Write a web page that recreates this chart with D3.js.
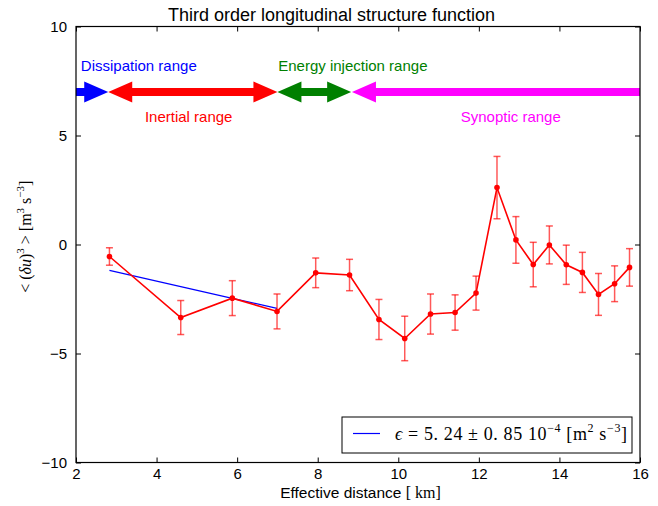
<!DOCTYPE html>
<html><head><meta charset="utf-8">
<script src="https://cdn.jsdelivr.net/npm/d3@7"></script>
<style>
html,body{margin:0;padding:0;background:#fff;}
svg{display:block;}
</style></head>
<body>
<svg id="chart" width="658" height="506"></svg>
<script>
// ---- data ----
const distanceKm = [2.83, 4.60, 5.88, 6.99, 7.95, 8.79, 9.52, 10.16, 10.80, 11.41, 11.93, 12.45, 12.92, 13.35, 13.75, 14.17, 14.57, 14.97, 15.37, 15.74];
const structureFn = [-0.55, -3.35, -2.46, -3.07, -1.30, -1.40, -3.44, -4.31, -3.19, -3.12, -2.23, 2.61, 0.21, -0.92, -0.02, -0.93, -1.28, -2.29, -1.80, -1.05];
const errorBars = [0.40, 0.78, 0.80, 0.80, 0.68, 0.72, 0.92, 1.02, 0.92, 0.81, 0.78, 1.43, 1.07, 1.02, 0.87, 0.90, 0.92, 0.96, 0.82, 0.86];
const fitKm = [2.83, 4.60, 5.88, 6.99];
const fitValues = [-1.19, -1.93, -2.47, -2.93];
const xTicks = [2, 4, 6, 8, 10, 12, 14, 16];
const yTicks = [-10, -5, 0, 5, 10];
const rangeNames = ["Dissipation range", "Inertial range", "Energy injection range", "Synoptic range"];
const rangeStart = [2.0, 2.8, 7.0, 8.85];
const rangeEnd = [2.8, 7.0, 8.83, 16.0];
const rangeHeadStart = [false, true, true, true];
const rangeHeadEnd = [true, true, true, false];
const rangeLevel = 7;
const labelX = [2.12, 3.71, 7.02, 11.55];
const labelY = [7.96, 5.63, 7.96, 5.63];
const rangeColors = ["#0000ff", "#ff0000", "#008000", "#ff00ff"];

// ---- layout ----
const svg = d3.select("#chart");
const L = 76, R = 640, T = 26.5, B = 462.5;
const x = d3.scaleLinear().domain([2, 16]).range([L, R]);
const y = d3.scaleLinear().domain([-10, 10]).range([B, T]);
const sans = "'Liberation Sans', Arial, Helvetica, sans-serif";
const serif = "'Liberation Serif', 'DejaVu Serif', serif";

// axes
const gx = svg.append("g").attr("transform", `translate(0,${B})`)
  .call(d3.axisBottom(x).tickValues(xTicks).tickSize(-5).tickSizeOuter(0).tickPadding(6).tickFormat(d3.format("d")));
const gxTop = svg.append("g").attr("transform", `translate(0,${T})`)
  .call(d3.axisTop(x).tickValues(xTicks).tickSize(-5).tickSizeOuter(0).tickFormat(""));
const gy = svg.append("g").attr("transform", `translate(${L},0)`)
  .call(d3.axisLeft(y).tickValues(yTicks).tickSize(-5).tickSizeOuter(0).tickPadding(9).tickFormat(d3.format("d")));
const gyR = svg.append("g").attr("transform", `translate(${R},0)`)
  .call(d3.axisRight(y).tickValues(yTicks).tickSize(-5).tickSizeOuter(0).tickFormat(""));
[gx, gxTop, gy, gyR].forEach(g => {
  g.select(".domain").remove();
  g.selectAll(".tick line").attr("stroke", "#000").attr("stroke-width", 1);
  g.selectAll("text").attr("font-family", sans).attr("font-size", 15).attr("fill", "#000");
});
gx.selectAll("text").attr("dy", "0.71em");

// range arrows
const yc = y(rangeLevel);
const sh = 4, hh = 10.5, hl = 24;
function arrowPath(a, b, hs, he) {
  const p = [];
  const s0 = hs ? a + hl : a, e0 = he ? b - hl : b;
  if (hs) { p.push([a, yc], [s0, yc - hh], [s0, yc - sh]); } else { p.push([a, yc - sh]); }
  if (he) { p.push([e0, yc - sh], [e0, yc - hh], [b, yc], [e0, yc + hh], [e0, yc + sh]); } else { p.push([b, yc - sh], [b, yc + sh]); }
  if (hs) { p.push([s0, yc + sh], [s0, yc + hh]); } else { p.push([a, yc + sh]); }
  return "M" + p.map(q => q.join(",")).join("L") + "Z";
}
rangeNames.forEach((n, i) => {
  svg.append("path")
    .attr("d", arrowPath(x(rangeStart[i]), x(rangeEnd[i]), rangeHeadStart[i], rangeHeadEnd[i]))
    .attr("fill", rangeColors[i]).attr("stroke", "none");
  svg.append("text").attr("x", x(labelX[i])).attr("y", y(labelY[i]))
    .attr("font-family", sans).attr("font-size", 15).attr("fill", rangeColors[i]).text(n);
});

// fit line
svg.append("path")
  .datum(fitKm.map((k, i) => [k, fitValues[i]]))
  .attr("d", d3.line().x(d => x(d[0])).y(d => y(d[1])))
  .attr("fill", "none").attr("stroke", "#0000ff").attr("stroke-width", 1.2);

// error bars
const eb = svg.append("g").attr("stroke", "#ff0000").attr("stroke-opacity", 0.65).attr("stroke-width", 1.5);
distanceKm.forEach((k, i) => {
  const cx = x(k), y0 = y(structureFn[i] - errorBars[i]), y1 = y(structureFn[i] + errorBars[i]);
  eb.append("line").attr("x1", cx).attr("x2", cx).attr("y1", y0).attr("y2", y1);
  eb.append("line").attr("x1", cx - 3.5).attr("x2", cx + 3.5).attr("y1", y0).attr("y2", y0);
  eb.append("line").attr("x1", cx - 3.5).attr("x2", cx + 3.5).attr("y1", y1).attr("y2", y1);
});

// data line
svg.append("path")
  .datum(distanceKm.map((k, i) => [k, structureFn[i]]))
  .attr("d", d3.line().x(d => x(d[0])).y(d => y(d[1])))
  .attr("fill", "none").attr("stroke", "#ff0000").attr("stroke-width", 1.6);
svg.append("g").selectAll("circle").data(distanceKm).join("circle")
  .attr("cx", d => x(d)).attr("cy", (d, i) => y(structureFn[i])).attr("r", 2.8).attr("fill", "#ff0000");

// frame
svg.append("rect").attr("x", L).attr("y", T).attr("width", R - L).attr("height", B - T)
  .attr("fill", "none").attr("stroke", "#000").attr("stroke-width", 1.2);

// legend
const lg = svg.append("g");
lg.append("rect").attr("x", 342).attr("y", 417).attr("width", 290).attr("height", 36)
  .attr("fill", "#fff").attr("stroke", "#000").attr("stroke-width", 1);
lg.append("line").attr("x1", 353).attr("x2", 380).attr("y1", 433.5).attr("y2", 433.5)
  .attr("stroke", "#0000ff").attr("stroke-width", 1.2);
const lt = lg.append("text").attr("x", 395).attr("y", 439.5).attr("font-family", serif).attr("font-size", 18)
  .attr("fill", "#000").attr("textLength", 232).attr("lengthAdjust", "spacing");
lt.append("tspan").attr("font-style", "italic").text("ϵ");
lt.append("tspan").text(" = 5. 24 ± 0. 85 10");
lt.append("tspan").attr("font-size", 12).attr("dy", -8).text("−4");
lt.append("tspan").attr("dy", 8).text(" [m");
lt.append("tspan").attr("font-size", 12).attr("dy", -8).text("2");
lt.append("tspan").attr("dy", 8).text("  s");
lt.append("tspan").attr("font-size", 12).attr("dy", -8).text("−3");
lt.append("tspan").attr("dy", 8).text("]");

// title
svg.append("text").attr("x", 331.5).attr("y", 21).attr("text-anchor", "middle")
  .attr("font-family", sans).attr("font-size", 18).attr("fill", "#000")
  .text("Third order longitudinal structure function");

// x label
const xl = svg.append("text").attr("x", 360.5).attr("y", 498).attr("text-anchor", "middle")
  .attr("font-family", sans).attr("font-size", 15.5).attr("fill", "#000");
xl.append("tspan").text("Effective distance  ");
xl.append("tspan").attr("font-family", serif).attr("font-size", 16).text("[ km]");

// y label
const yl = svg.append("text").attr("transform", `translate(31,236.7) rotate(-90)`)
  .attr("text-anchor", "middle").attr("font-family", serif).attr("font-size", 16).attr("fill", "#000");
yl.append("tspan").text("< (");
yl.append("tspan").attr("font-style", "italic").text("δu");
yl.append("tspan").text(")");
yl.append("tspan").attr("font-size", 11).attr("dy", -7).text("3");
yl.append("tspan").attr("dy", 7).text(" >   [m");
yl.append("tspan").attr("font-size", 11).attr("dy", -7).text("3");
yl.append("tspan").attr("dy", 7).text(" s");
yl.append("tspan").attr("font-size", 11).attr("dy", -7).text("−3");
yl.append("tspan").attr("dy", 7).text("]");
</script>
</body></html>
